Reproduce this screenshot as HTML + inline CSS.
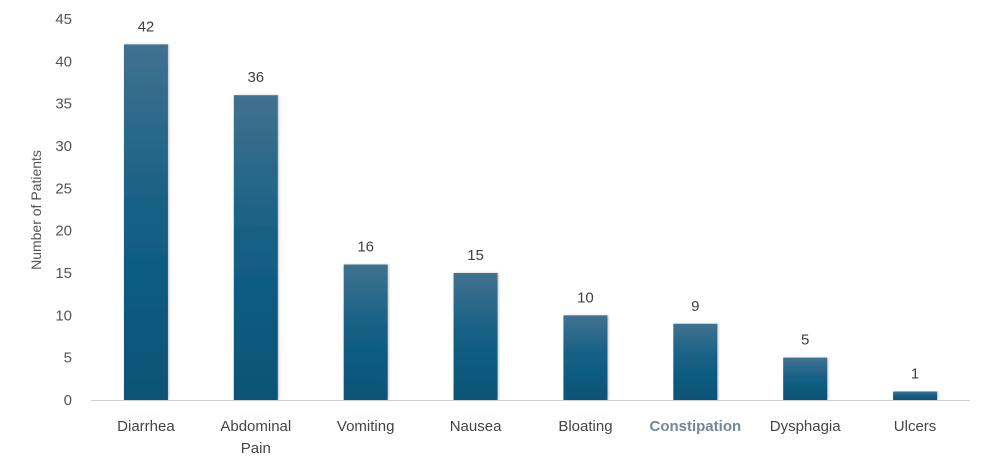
<!DOCTYPE html>
<html><head><meta charset="utf-8"><style>
body{margin:0;background:#fff;}
svg{display:block;font-family:"Liberation Sans",sans-serif;}
</style></head><body>
<svg id="chart" width="986" height="467">
<defs><linearGradient id="g" x1="0" y1="0" x2="0" y2="1">
<stop offset="0" stop-color="#41718f"/><stop offset="0.5" stop-color="#135f85"/><stop offset="1" stop-color="#0a5477"/></linearGradient>
<filter id="sh" x="-20%" y="-5%" width="140%" height="110%"><feDropShadow dx="1" dy="0" stdDeviation="1" flood-color="#000" flood-opacity="0.25"/></filter></defs>
<g id="yaxis"></g>
<g id="bars"></g>
<g id="xaxis"></g>
<text transform="translate(41,210) rotate(-90)" text-anchor="middle" font-size="14" fill="#555">Number of Patients</text>
</svg>
<script>
const categories=["Diarrhea","Abdominal Pain","Vomiting","Nausea","Bloating","Constipation","Dysphagia","Ulcers"];
const values=[42,36,16,15,10,9,5,1];
const yTicks=[0,5,10,15,20,25,30,35,40,45];
const NS="http://www.w3.org/2000/svg";
const x0=91,x1=970,y0=400,yTop=19,yMax=45;
const y=v=>y0-(v/yMax)*(y0-yTop);
const band=(x1-x0)/categories.length;
const xc=i=>x0+band*(i+0.5);
function mk(t,a,p){const e=document.createElementNS(NS,t);for(const k in a)e.setAttribute(k,a[k]);p.appendChild(e);return e;}
const ya=document.getElementById('yaxis'),bg=document.getElementById('bars'),xa=document.getElementById('xaxis');
yTicks.forEach(v=>{const t=mk('text',{x:72,y:y(v)+5,'text-anchor':'end','font-size':15,fill:'#555'},ya);t.textContent=v;

});
const ax=mk('line',{x1:x0,x2:x1,y1:y0+0.5,y2:y0+0.5,stroke:'#d0d0d0','stroke-width':1},xa);


const bw=44;
values.forEach((v,i)=>{
const r=mk('rect',{x:xc(i)-bw/2,y:y(v),width:bw,height:y0-y(v),fill:'url(#g)',filter:'url(#sh)'},bg);


const l=mk('text',{x:xc(i),y:y(v)-13,'text-anchor':'middle','font-size':15,fill:'#404040'},bg);l.textContent=v;


const words=categories[i].split(' ');
const isC=categories[i]==='Constipation';
const t=mk('text',{x:xc(i),y:431,'text-anchor':'middle','font-size':15,fill:isC?'#72879a':'#444','font-weight':isC?'bold':'normal'},xa);


words.forEach((w,k)=>{const s=mk('tspan',{x:xc(i),dy:k?22:0},t);s.textContent=w;});
});
</script>
</body></html>
